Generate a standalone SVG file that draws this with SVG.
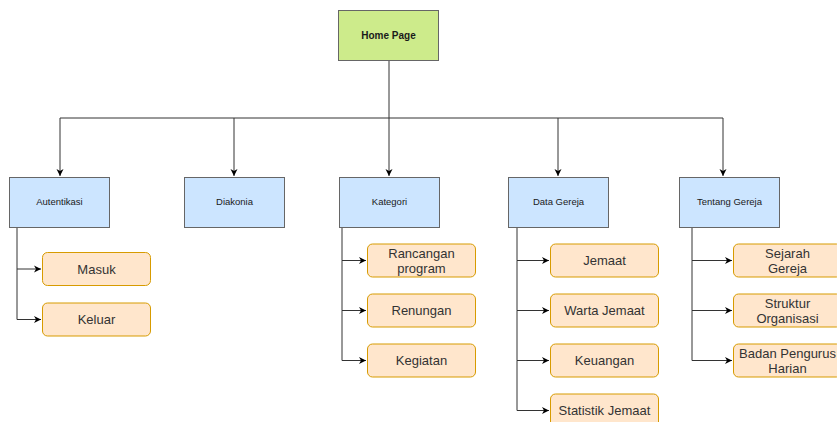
<svg xmlns="http://www.w3.org/2000/svg" width="837" height="422" viewBox="0 0 837 422">
<defs>
<marker id="ah" markerWidth="8" markerHeight="8" refX="7" refY="4" orient="auto" markerUnits="userSpaceOnUse">
<path d="M0,0.5 L7,4 L0,7.5 L2,4 Z" fill="#000"/>
</marker>
<style>
.conn{fill:none;stroke:#333;stroke-width:1}
.root{fill:#cdeb8b;stroke:#666}
.cat{fill:#cce5ff;stroke:#666}
.leaf{fill:#ffe6cc;stroke:#d79b00}
.t9{font-family:"Liberation Sans",Arial,sans-serif;font-size:9.5px;fill:#1a1a1a;text-anchor:middle}
.tb{font-family:"Liberation Sans",Arial,sans-serif;font-size:10px;font-weight:bold;fill:#1a1a1a;text-anchor:middle}
.t13{font-family:"Liberation Sans",Arial,sans-serif;font-size:13px;fill:#333;text-anchor:middle}
</style>
</defs>
<rect width="837" height="422" fill="#fff"/>
<g id="connectors">
<path class="conn" d="M389,60 V118 M60,118 H723"/>
<path class="conn" d="M60,118 V176" marker-end="url(#ah)"/>
<path class="conn" d="M234,118 V176" marker-end="url(#ah)"/>
<path class="conn" d="M389,118 V176" marker-end="url(#ah)"/>
<path class="conn" d="M558,118 V176" marker-end="url(#ah)"/>
<path class="conn" d="M723,118 V176" marker-end="url(#ah)"/>
<path class="conn" d="M17,227 V269 H41" marker-end="url(#ah)"/>
<path class="conn" d="M17,269 V319.5 H41" marker-end="url(#ah)"/>
<path class="conn" d="M342,227 V260.5 H366" marker-end="url(#ah)"/>
<path class="conn" d="M342,260.5 V310.5 H366" marker-end="url(#ah)"/>
<path class="conn" d="M342,310.5 V360.5 H366" marker-end="url(#ah)"/>
<path class="conn" d="M517,227 V260.5 H549" marker-end="url(#ah)"/>
<path class="conn" d="M517,260.5 V310.5 H549" marker-end="url(#ah)"/>
<path class="conn" d="M517,310.5 V360.5 H549" marker-end="url(#ah)"/>
<path class="conn" d="M517,360.5 V410.5 H549" marker-end="url(#ah)"/>
<path class="conn" d="M692,227 V260.5 H732" marker-end="url(#ah)"/>
<path class="conn" d="M692,260.5 V310.5 H732" marker-end="url(#ah)"/>
<path class="conn" d="M692,310.5 V360.5 H732" marker-end="url(#ah)"/>
</g>
<g id="home"><rect class="root" x="338.5" y="10.5" width="100" height="50"/><text class="tb" x="388.5" y="38.5">Home Page</text></g>
<g id="autentikasi"><rect class="cat" x="9.5" y="177.5" width="100" height="50"/><text class="t9" x="59.5" y="205">Autentikasi</text></g>
<g id="diakonia"><rect class="cat" x="184.5" y="177.5" width="100" height="50"/><text class="t9" x="234.5" y="205">Diakonia</text></g>
<g id="kategori"><rect class="cat" x="339.5" y="177.5" width="100" height="50"/><text class="t9" x="389.5" y="205">Kategori</text></g>
<g id="datagereja"><rect class="cat" x="508.5" y="177.5" width="100" height="50"/><text class="t9" x="558.5" y="205">Data Gereja</text></g>
<g id="tentanggereja"><rect class="cat" x="679.5" y="177.5" width="100" height="50"/><text class="t9" x="729.5" y="205">Tentang Gereja</text></g>
<g id="masuk"><rect class="leaf" x="42.5" y="252.5" width="108" height="33" rx="5"/><text class="t13" x="96.5" y="273.5">Masuk</text></g>
<g id="keluar"><rect class="leaf" x="42.5" y="303" width="108" height="33" rx="5"/><text class="t13" x="96.5" y="324">Keluar</text></g>
<g id="rancangan"><rect class="leaf" x="367.5" y="244" width="108" height="33" rx="5"/><text class="t13" x="421.5" y="257.5">Rancangan</text><text class="t13" x="421.5" y="273">program</text></g>
<g id="renungan"><rect class="leaf" x="367.5" y="294" width="108" height="33" rx="5"/><text class="t13" x="421.5" y="315">Renungan</text></g>
<g id="kegiatan"><rect class="leaf" x="367.5" y="344" width="108" height="33" rx="5"/><text class="t13" x="421.5" y="365">Kegiatan</text></g>
<g id="jemaat"><rect class="leaf" x="550.5" y="244" width="108" height="33" rx="5"/><text class="t13" x="604.5" y="265">Jemaat</text></g>
<g id="warta"><rect class="leaf" x="550.5" y="294" width="108" height="33" rx="5"/><text class="t13" x="604.5" y="315">Warta Jemaat</text></g>
<g id="keuangan"><rect class="leaf" x="550.5" y="344" width="108" height="33" rx="5"/><text class="t13" x="604.5" y="365">Keuangan</text></g>
<g id="statistik"><rect class="leaf" x="550.5" y="394" width="108" height="33" rx="5"/><text class="t13" x="604.5" y="415">Statistik Jemaat</text></g>
<g id="sejarah"><rect class="leaf" x="733.5" y="244" width="108" height="33" rx="5"/><text class="t13" x="787.5" y="257.5">Sejarah</text><text class="t13" x="787.5" y="273">Gereja</text></g>
<g id="struktur"><rect class="leaf" x="733.5" y="294" width="108" height="33" rx="5"/><text class="t13" x="787.5" y="307.5">Struktur</text><text class="t13" x="787.5" y="323">Organisasi</text></g>
<g id="badan"><rect class="leaf" x="733.5" y="344" width="108" height="33" rx="5"/><text class="t13" x="787.5" y="357.5">Badan Pengurus</text><text class="t13" x="787.5" y="373">Harian</text></g>
</svg>
